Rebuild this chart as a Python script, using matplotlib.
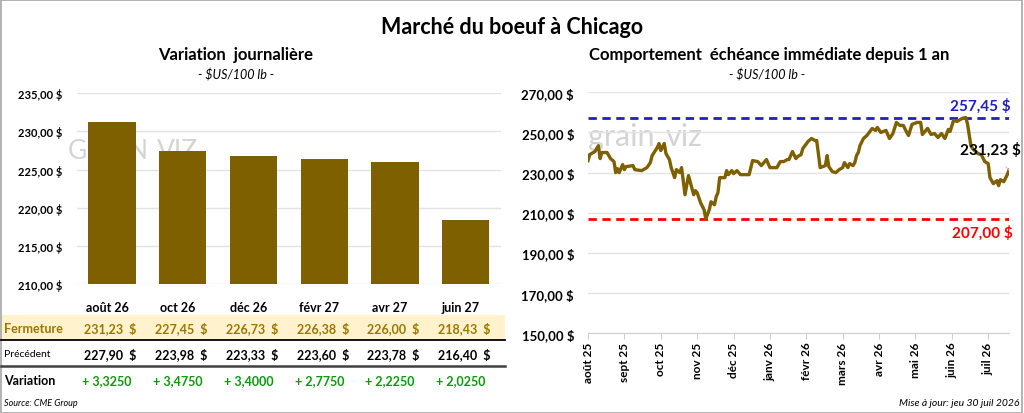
import numpy as np
import matplotlib.pyplot as plt
from matplotlib.patches import Rectangle
from matplotlib.lines import Line2D
from matplotlib.ticker import FuncFormatter
from matplotlib.transforms import blended_transform_factory

plt.rcParams['font.family'] = ['Lato', 'DejaVu Sans']

# --- données ---
echeances = ['août 26', 'oct 26', 'déc 26', 'févr 27', 'avr 27', 'juin 27']
fermeture = [231.23, 227.45, 226.73, 226.38, 226.00, 218.43]
precedent = [227.90, 223.98, 223.33, 223.60, 223.78, 216.40]
variation = [3.3250, 3.4750, 3.4000, 2.7750, 2.2250, 2.0250]

# échéance immédiate, jour de bourse (index) et prix
jours = [0, 1, 4, 6, 7, 8, 11, 13, 15, 16, 17, 18, 20, 21, 22, 26, 27, 31, 34, 36,
         37, 40, 41, 42, 44, 45, 47, 48, 50, 51, 53, 54, 56, 58, 61, 62, 63, 65, 67, 68,
         70, 71, 73, 74, 75, 76, 79, 80, 81, 83, 84, 86, 88, 93, 95, 98, 100, 103, 105, 109,
         111, 113, 115, 116, 118, 120, 121, 123, 124, 127, 129, 131, 132, 134, 137, 138, 139, 141, 143, 145,
         147, 148, 150, 151, 153, 154, 155, 156, 157, 159, 161, 164, 166, 167, 169, 172, 174, 176, 178, 180,
         182, 184, 185, 187, 190, 192, 193, 195, 196, 198, 200, 202, 204, 206, 208, 209, 211, 213, 216, 218,
         219, 221, 222, 225, 227, 229, 231, 232, 234, 236, 237, 238, 240, 242, 243]
prix = [236.0, 239.0, 240.5, 243.4, 237.0, 240.0, 240.0, 237.0, 235.5, 230.0, 232.0, 230.0, 234.0, 231.5, 233.0, 233.5, 231.5, 231.0, 232.5, 235.0,
        238.5, 242.5, 244.5, 241.0, 244.5, 239.5, 236.5, 232.5, 227.5, 231.5, 230.0, 232.5, 219.0, 228.5, 219.0, 221.0, 220.0, 215.0, 211.5, 207.0,
        211.5, 215.5, 214.0, 218.0, 220.0, 227.5, 227.5, 231.0, 229.0, 231.0, 229.5, 231.0, 229.0, 229.0, 236.0, 235.5, 233.5, 236.5, 232.5, 232.5,
        235.5, 235.5, 236.5, 236.5, 240.5, 237.0, 238.0, 239.0, 242.0, 245.5, 247.0, 246.0, 246.0, 232.5, 233.5, 238.5, 233.0, 230.5, 230.0, 231.5,
        232.5, 235.0, 232.5, 234.5, 233.5, 235.0, 238.5, 240.0, 243.5, 247.0, 248.5, 252.0, 251.0, 252.5, 250.0, 251.0, 247.0, 249.5, 255.0, 253.5,
        253.5, 250.0, 248.5, 254.0, 255.0, 255.0, 249.0, 251.0, 252.0, 249.0, 249.5, 247.5, 249.5, 247.0, 251.5, 250.5, 256.0, 255.5, 257.0, 257.45,
        254.5, 243.5, 242.0, 239.5, 239.0, 235.5, 234.5, 227.5, 224.5, 226.0, 223.5, 226.5, 225.5, 229.0, 231.23]
mois = ['août 25', 'sept 25', 'oct 25', 'nov 25', 'déc 25', 'janv 26', 'févr 26',
        'mars 26', 'avr 26', 'mai 26', 'juin 26', 'juil 26']
haut, bas = 257.45, 207.00

W, H = 1024, 414
GOLD = '#7F6000'
GRID = '#E3E3E3'

def fx(px):
    return px / W

def fy(py):
    return 1 - py / H

def fr(v, n=2):
    return f"{v:.{n}f}".replace('.', ',')

fig = plt.figure(figsize=(W / 100, H / 100), dpi=100)
fig.patch.set_facecolor('white')

dollar = FuncFormatter(lambda v, p: fr(v) + ' $')

# ---------- graphique de gauche ----------
ax1 = fig.add_axes([fx(76.7), fy(285), fx(501 - 76.7), (285 - 94.3) / H])
x = np.arange(len(echeances))
ax1.bar(x, fermeture, width=0.67, color=GOLD, zorder=2)
ax1.set_ylim(210, 235)
ax1.set_xlim(-0.5, len(echeances) - 0.5)
ax1.set_yticks(np.arange(210, 236, 5))
ax1.yaxis.set_major_formatter(dollar)
ax1.set_xticks([])
ax1.grid(axis='y', color=GRID, lw=1, zorder=0)
for s in ax1.spines.values():
    s.set_visible(False)
ax1.tick_params(axis='y', length=0, labelsize=8, pad=10)
for t in ax1.get_yticklabels():
    t.set_fontweight('bold')
ax1.text(-0.02, 0.70, 'GRAIN', transform=ax1.transAxes, fontsize=19, color='#D4D4D4',
         zorder=1, va='center')
ax1.text(0.19, 0.70, 'VIZ', transform=ax1.transAxes, fontsize=19, color='#D4D4D4',
         zorder=1, va='center')

# tableau sous les barres
tr = blended_transform_factory(ax1.transData, fig.transFigure)
fig.patches.append(Rectangle((fx(1), fy(341)), fx(504), (341 - 316) / H,
                             transform=fig.transFigure, facecolor='#FFF2CC',
                             edgecolor='none', zorder=-1))
fig.add_artist(Line2D([fx(1), fx(505)], [fy(341), fy(341)], color='black', lw=1.3))
fig.add_artist(Line2D([fx(1), fx(505)], [fy(366.5), fy(366.5)], color='#404040', lw=1.8))

fig.text(fx(4), fy(329), 'Fermeture', fontsize=9, fontweight='bold', color='#9C7700', va='center')
fig.text(fx(4), fy(355), 'Précédent', fontsize=7.5, color='black', va='center')
fig.text(fx(4), fy(381), 'Variation', fontsize=9, fontweight='bold', color='black', va='center')

for i in range(len(echeances)):
    fig.text(i - 0.07, fy(308), echeances[i], transform=tr, ha='center', va='center',
             fontsize=9, fontweight='bold')
    fig.text(i + 0.35, fy(329), fr(fermeture[i]) + '  $', transform=tr,
             ha='right', va='center', fontsize=9, fontweight='bold', color='#9C7700')
    fig.text(i + 0.35, fy(355), fr(precedent[i]) + '  $', transform=tr,
             ha='right', va='center', fontsize=9, fontweight='bold', color='black')
    fig.text(i - 0.07, fy(381), '+ ' + fr(variation[i], 4), transform=tr,
             ha='center', va='center', fontsize=9, fontweight='bold', color='#0A9A0A')

fig.text(fx(4), fy(404), 'Source: CME Group', fontsize=6.5, style='italic', va='center')

# ---------- graphique de droite ----------
ax2 = fig.add_axes([fx(588), fy(334.3), fx(1009 - 588), (334.3 - 93.3) / H])
ax2.plot(jours, prix, color=GOLD, lw=2.4, zorder=3, solid_joinstyle='round')
ax2.axhline(haut, color='#2020C0', lw=2, ls=(0, (3, 2)), zorder=2)
ax2.axhline(bas, color='#FF0000', lw=2, ls=(0, (3, 2)), zorder=2)
ax2.set_ylim(150, 270)
ax2.set_xlim(0, jours[-1])
ax2.set_yticks(np.arange(150, 271, 20))
ax2.yaxis.set_major_formatter(dollar)
ax2.set_xticks(np.arange(len(mois)) * 21)
ax2.set_xticklabels(mois, rotation=90, fontsize=8.5, fontweight='bold')
ax2.grid(axis='y', color=GRID, lw=1, zorder=0)
for s in ['top', 'right', 'left']:
    ax2.spines[s].set_visible(False)
ax2.spines['bottom'].set_color('#D0D0D0')
ax2.tick_params(axis='y', length=0, labelsize=9.5, pad=10)
ax2.tick_params(axis='x', length=4, color='#D0D0D0', pad=2)
for t in ax2.get_yticklabels():
    t.set_fontweight('bold')
ax2.text(0.0, 0.82, 'grain', transform=ax2.transAxes, fontsize=22, color='#D4D4D4',
         zorder=1, va='center')
ax2.text(0.185, 0.82, 'viz', transform=ax2.transAxes, fontsize=22, color='#D4D4D4',
         zorder=1, va='center')

ax2.text(1.005, haut + 2.5, fr(haut) + ' $', transform=ax2.get_yaxis_transform(),
         ha='right', va='bottom', fontsize=11, fontweight='bold', color='#2020C0')
ax2.text(1.01, bas - 3, fr(bas) + ' $', transform=ax2.get_yaxis_transform(),
         ha='right', va='top', fontsize=11, fontweight='bold', color='#FF0000')
ax2.annotate(fr(prix[-1]) + ' $', xy=(jours[-1], prix[-1]),
             xytext=(232.5, 241.8), ha='center', va='center',
             fontsize=11, fontweight='bold', color='black',
             arrowprops=dict(arrowstyle='-', color='#C8C8C8', lw=0.8,
                             shrinkA=7, shrinkB=0))

# ---------- titres ----------
fig.text(0.5, fy(27), 'Marché du boeuf à Chicago', ha='center', va='center',
         fontsize=15.5, fontweight='bold')
fig.text(fx(236), fy(55), 'Variation  journalière', ha='center', va='center',
         fontsize=12, fontweight='bold')
fig.text(fx(236), fy(75), '- $US/100 lb -', ha='center', va='center', fontsize=9, style='italic')
fig.text(fx(769), fy(55), 'Comportement  échéance immédiate depuis 1 an', ha='center',
         va='center', fontsize=12, fontweight='bold')
fig.text(fx(767), fy(75), '- $US/100 lb -', ha='center', va='center', fontsize=9, style='italic')
fig.text(fx(1019), fy(404), 'Mise à jour: jeu 30 juil 2026', ha='right', va='center',
         fontsize=7.5, style='italic')

fig.patches.append(Rectangle((0.0005, 0.001), 0.998, 0.997, transform=fig.transFigure,
                             fill=False, edgecolor='#A6A6A6', lw=1.2))

fig.savefig('out.png', dpi=100)
